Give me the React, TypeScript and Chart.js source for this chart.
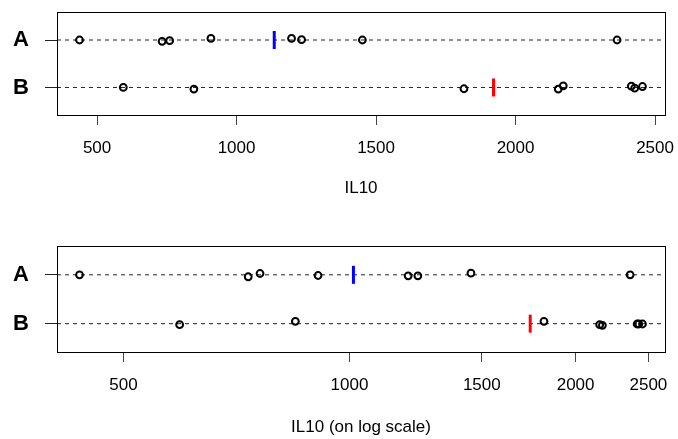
import React, { useEffect, useRef } from 'react';
import { Chart, registerables } from 'chart.js';

Chart.register(...registerables);

const FONT = "'Liberation Sans', Arial, Helvetica, sans-serif";

// ---- data ----
const groups = ['A', 'B'];
const groupRow = [2, 1];
const il10A = [437, 733, 760, 908, 1197, 1233, 1451, 2364];
const il10B = [594, 847, 1815, 2153, 2171, 2415, 2427, 2455];
// small vertical jitter of each point (stripchart jitter), per panel
const jitterLinA = [0, -0.027, -0.014, 0.034, 0.034, 0.006, 0, 0];
const jitterLinB = [0, -0.034, -0.027, -0.034, 0.034, 0.027, -0.014, 0.02];
const jitterLogA = [0, -0.04, 0.027, -0.014, -0.02, -0.02, 0.034, 0];
const jitterLogB = [-0.02, 0.047, 0.047, -0.02, -0.034, -0.007, -0.007, -0.007];
// group summary marks (coloured bars)
const markLinear = [1135, 1921];
const markLog = [1012, 1740];
const markColors = ['#0000FF', '#FF0000'];
const xTickValues = [500, 1000, 1500, 2000, 2500];
const titleLinear = 'IL10';
const titleLog = 'IL10 (on log scale)';

const boxPlugin = {
  id: 'rbox',
  afterDraw(chart: any) {
    const { ctx, chartArea } = chart;
    const { left, top, right, bottom } = chartArea;
    ctx.save();
    ctx.strokeStyle = '#000';
    ctx.lineWidth = 1;
    ctx.strokeRect(Math.round(left) + 0.5, Math.round(top) + 0.5, Math.round(right - left), Math.round(bottom - top));
    ctx.restore();
  },
};

function buildConfig(logScale: boolean, title: string, jitA: number[], jitB: number[], marks: number[], axisHeight: number, titlePad: number, topPad: number) {
  const all = [...il10A, ...il10B];
  const lo = Math.min(...all);
  const hi = Math.max(...all);
  let xmin: number, xmax: number;
  if (logScale) {
    const l0 = Math.log10(lo), l1 = Math.log10(hi);
    const e = (l1 - l0) * 0.04;
    xmin = Math.pow(10, l0 - e);
    xmax = Math.pow(10, l1 + e);
  } else {
    const e = (hi - lo) * 0.04;
    xmin = lo - e;
    xmax = hi + e;
  }
  const values = [il10A, il10B];
  const jit = [jitA, jitB];
  const datasets: any[] = [];
  groups.forEach((g, gi) => {
    datasets.push({
      label: g + ' points',
      data: values[gi].map((v, i) => ({ x: v, y: groupRow[gi] + jit[gi][i] })),
      pointStyle: 'circle',
      pointRadius: 3.4,
      pointBorderWidth: 2,
      pointBorderColor: '#000',
      pointBackgroundColor: 'rgba(0,0,0,0)',
      showLine: false,
      order: 0,
    });
  });
  groups.forEach((g, gi) => {
    datasets.push({
      label: g + ' mark',
      data: [{ x: marks[gi], y: groupRow[gi] }],
      pointStyle: 'line',
      pointRotation: 90,
      pointRadius: 9,
      pointBorderWidth: 3,
      pointBorderColor: markColors[gi],
      pointBackgroundColor: markColors[gi],
      showLine: false,
      order: 1,
    });
  });
  groups.forEach((g, gi) => {
    datasets.push({
      label: g + ' line',
      data: [{ x: xmin, y: groupRow[gi] }, { x: xmax, y: groupRow[gi] }],
      showLine: true,
      borderColor: '#222',
      borderWidth: 1,
      borderDash: [4, 4],
      pointRadius: 0,
      order: 2,
    });
  });

  return {
    type: 'scatter',
    data: { datasets },
    plugins: [boxPlugin],
    options: {
      animation: false,
      responsive: false,
      devicePixelRatio: 1,
      events: [],
      layout: { padding: { top: topPad, right: 13, left: 0, bottom: 0 } },
      plugins: { legend: { display: false }, tooltip: { enabled: false } },
      scales: {
        x: {
          type: logScale ? 'logarithmic' : 'linear',
          min: xmin,
          max: xmax,
          afterBuildTicks: (s: any) => { s.ticks = xTickValues.map((v) => ({ value: v })); },
          afterFit: (s: any) => { s.height = axisHeight; s.paddingLeft = 0; s.paddingRight = 0; },
          ticks: {
            autoSkip: false,
            maxRotation: 0,
            minRotation: 0,
            padding: 13,
            color: '#000',
            font: { family: FONT, size: 17 },
            callback: (v: any) => String(v),
          },
          grid: { display: true, drawOnChartArea: false, drawTicks: true, tickLength: 10, color: '#444', lineWidth: 1 },
          border: { display: false },
          title: {
            display: true,
            text: title,
            color: '#000',
            font: { family: FONT, size: 17 },
            padding: { top: 0, bottom: titlePad },
          },
        },
        y: {
          type: 'linear',
          min: 0.42,
          max: 2.59,
          afterBuildTicks: (s: any) => { s.ticks = groupRow.map((v) => ({ value: v })); },
          afterFit: (s: any) => { s.width = 57; s.paddingTop = 0; s.paddingBottom = 0; },
          ticks: {
            autoSkip: false,
            padding: 16,
            color: '#000',
            font: { family: FONT, size: 22, weight: 'bold' },
            callback: (v: any) => groups[groupRow.indexOf(v)] ?? '',
          },
          grid: { display: true, drawOnChartArea: false, drawTicks: true, tickLength: 12, color: '#222', lineWidth: 1 },
          border: { display: false },
        },
      },
    },
  };
}

function Panel(props: { top: number; height: number; cfg: any }) {
  const ref = useRef<HTMLCanvasElement | null>(null);
  useEffect(() => {
    if (!ref.current) return;
    const chart = new Chart(ref.current, props.cfg);
    return () => chart.destroy();
  }, []);
  return (
    <canvas
      ref={ref}
      width={678}
      height={props.height}
      style={{ position: 'absolute', left: 0, top: props.top, width: 678, height: props.height, display: 'block' }}
    />
  );
}

export default function App() {
  const topCfg = buildConfig(false, titleLinear, jitterLinA, jitterLinB, markLinear, 105, 21, 8);
  const botCfg = buildConfig(true, titleLog, jitterLogA, jitterLogB, markLog, 87, 1, 26);
  return (
    <div style={{ position: 'absolute', left: 0, top: 0, width: 678, height: 439, background: '#fff', overflow: 'hidden' }}>
      <Panel top={0} height={220} cfg={topCfg} />
      <Panel top={220} height={219} cfg={botCfg} />
    </div>
  );
}
